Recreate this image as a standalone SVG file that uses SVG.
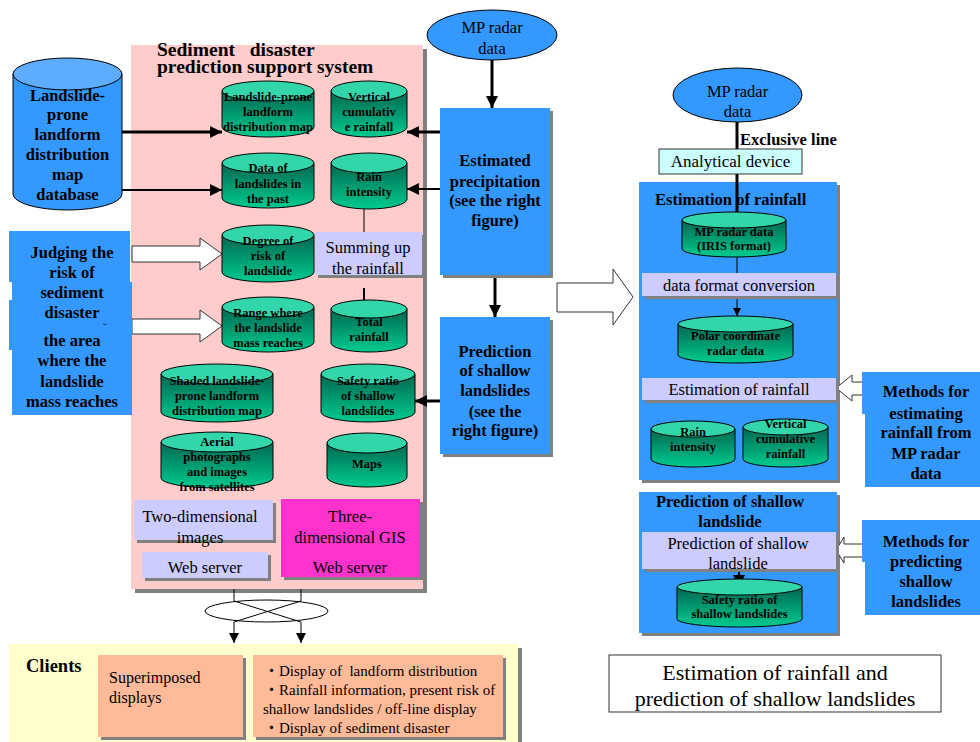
<svg xmlns="http://www.w3.org/2000/svg" width="980" height="742" viewBox="0 0 980 742">
<defs>
<style>
.t{font-family:"Liberation Serif","Times New Roman","Noto Sans CJK JP",serif;fill:#000;white-space:pre}
.b{font-weight:bold}
.c{text-anchor:middle}
.g{font-size:12.5px;font-weight:bold;text-anchor:middle}
.f16{font-size:16.5px}
.sh{fill:#808080}
.cb{fill:url(#gg);stroke:#000;stroke-width:1}
.ct{fill:#33d6aa;stroke:#000;stroke-width:1}
.blue{fill:#3399ff}
.lav{fill:#ccccff}
.ln{stroke:#000;fill:none}
.wa{fill:#fff;stroke:#333;stroke-width:1}
</style>
<linearGradient id="gg" x1="0" y1="0" x2="0" y2="1">
<stop offset="0" stop-color="#006650"/>
<stop offset="1" stop-color="#00cc90"/>
</linearGradient>
<marker id="ah" viewBox="0 0 12 12" refX="12" refY="6" markerWidth="12" markerHeight="12" markerUnits="userSpaceOnUse" orient="auto">
<path d="M0,0 L12,6 L0,12 Z" fill="#000"/>
</marker>
<marker id="ahm" viewBox="0 0 10 10" refX="10" refY="5" markerWidth="10" markerHeight="10" markerUnits="userSpaceOnUse" orient="auto">
<path d="M0,0 L10,5 L0,10 Z" fill="#000"/>
</marker>
<marker id="ahs" viewBox="0 0 8 8" refX="8" refY="4" markerWidth="8" markerHeight="8" markerUnits="userSpaceOnUse" orient="auto">
<path d="M0,0 L8,4 L0,8 Z" fill="#000"/>
</marker>
</defs>
<rect width="980" height="742" fill="#fff"/>

<!-- background panels -->
<g id="sediment-panel">
<rect class="sh" x="135" y="49" width="292" height="544"/>
<rect x="131" y="45" width="292" height="544" fill="#ffcccc"/>
<text class="t b" x="157" y="55.5" font-size="19.5">Sediment   disaster</text>
<text class="t b" x="157" y="73" font-size="19.5">prediction support system</text>
</g>
<g id="clients-panel">
<rect class="sh" x="13" y="648" width="509" height="100"/>
<rect x="9" y="644" width="509" height="100" fill="#ffffcc"/>
<text class="t b" x="26" y="672" font-size="18.5">Clients</text>
</g>
<g id="estimation-panel">
<rect class="sh" x="642" y="185" width="198" height="298"/>
<rect class="blue" x="639" y="182" width="198" height="298"/>
</g>
<g id="prediction-panel">
<rect class="sh" x="642" y="495" width="198" height="141"/>
<rect class="blue" x="639" y="492" width="198" height="141"/>
<text class="t b c f16" x="730" y="507">Prediction of shallow</text>
<text class="t b c f16" x="730" y="527">landslide</text>
</g>

<!-- connectors -->
<g id="connectors">
<line class="ln" x1="122" y1="132" x2="222" y2="132" stroke-width="3" marker-end="url(#ah)"/>
<line class="ln" x1="122" y1="190" x2="222" y2="190" stroke-width="2" marker-end="url(#ah)"/>
<line class="ln" x1="440" y1="132" x2="407" y2="132" stroke-width="3" marker-end="url(#ah)"/>
<line class="ln" x1="440" y1="189" x2="407" y2="189" stroke-width="2" marker-end="url(#ah)"/>
<line class="ln" x1="492" y1="60" x2="492" y2="108" stroke-width="3" marker-end="url(#ah)"/>
<line class="ln" x1="495" y1="275" x2="495" y2="317" stroke-width="3" marker-end="url(#ah)"/>
<line class="ln" x1="440" y1="401" x2="415" y2="401" stroke-width="3" marker-end="url(#ah)"/>
<line class="ln" x1="364" y1="209" x2="364" y2="232" stroke-width="1"/>
<line class="ln" x1="364" y1="288" x2="364" y2="310" stroke-width="2" marker-end="url(#ahm)"/>
<polygon class="wa" points="132,246 200,246 200,238 222,254 200,270 200,262 132,262"/>
<polygon class="wa" points="132,319 200,319 200,310 222,326 200,342 200,334 132,334"/>
<polygon class="wa" points="557,283 613,283 613,269 633,297 613,325 613,312 557,312"/>
<polygon class="wa" points="863,382 852,382 852,375 836,388 852,401 852,395 863,395"/>
<polygon class="wa" points="863,544 844,544 844,537 836,550 844,563 844,557 863,557"/>
<path class="ln" d="M234,589 V601 L301,622 V643" stroke-width="1" marker-end="url(#ahm)"/>
<path class="ln" d="M301,589 V601 L234,622 V643" stroke-width="1" marker-end="url(#ahm)"/>
<line class="ln" x1="737" y1="122" x2="737" y2="215" stroke-width="3"/>
<line class="ln" x1="737" y1="257" x2="737" y2="273" stroke-width="1"/>
<line class="ln" x1="737" y1="296" x2="737" y2="316" stroke-width="1" marker-end="url(#ahs)"/>
<line class="ln" x1="739" y1="569" x2="739" y2="587" stroke-width="2" marker-end="url(#ah)"/>
</g>

<g id="panel-title-estimation">
<text class="t b" x="655" y="205" font-size="16.5">Estimation of rainfall</text>
</g>

<!-- left side nodes -->
<g id="landform-database">
<path d="M13,74 V194 A54.5,16 0 0 0 122,194 V74 Z" fill="#3399ff" stroke="#000"/>
<ellipse cx="67.5" cy="74" rx="54.5" ry="16" fill="#5eacff" stroke="#000"/>
<text class="t b c f16" x="67.5" y="101">Landslide-</text>
<text class="t b c f16" x="67.5" y="120">prone</text>
<text class="t b c f16" x="67.5" y="140">landform</text>
<text class="t b c f16" x="67.5" y="160">distribution</text>
<text class="t b c f16" x="67.5" y="180">map</text>
<text class="t b c f16" x="67.5" y="200">database</text>
</g>
<g id="judging-risk">
<rect class="blue" x="9" y="231" width="121" height="51"/>
<rect class="blue" x="12" y="282" width="120" height="133"/>
<rect class="blue" x="9" y="300" width="121" height="50"/>
<text class="t b c f16" x="72" y="258">Judging the</text>
<text class="t b c f16" x="72" y="278">risk of</text>
<text class="t b c f16" x="72" y="298">sediment</text>
<text class="t b c f16" x="72" y="318">disaster</text>
<text class="t" x="103" y="331" font-size="11">˘</text>
<text class="t b c f16" x="72" y="346">the area</text>
<text class="t b c f16" x="72" y="366">where the</text>
<text class="t b c f16" x="72" y="387">landslide</text>
<text class="t b c f16" x="72" y="407">mass reaches</text>
</g>

<!-- cylinders in sediment panel -->
<g id="landform-map">
<path class="cb" d="M222,91 V127 A46,10 0 0 0 314,127 V91 Z"/>
<ellipse class="ct" cx="268" cy="91" rx="46" ry="10"/>
<text class="t g" x="268" y="101">Landslide-prone</text>
<text class="t g" x="268" y="116">landform</text>
<text class="t g" x="268" y="131">distribution map</text>
</g>
<g id="vertical-cumulative">
<path class="cb" d="M331,91 V127 A38,10 0 0 0 407,127 V91 Z"/>
<ellipse class="ct" cx="369" cy="91" rx="38" ry="10"/>
<text class="t g" x="369" y="101">Vertical</text>
<text class="t g" x="369" y="116">cumulativ</text>
<text class="t g" x="369" y="131">e rainfall</text>
</g>
<g id="past-landslides">
<path class="cb" d="M222,163 V198 A46,10 0 0 0 314,198 V163 Z"/>
<ellipse class="ct" cx="268" cy="163" rx="46" ry="10"/>
<text class="t g" x="268" y="172">Data of</text>
<text class="t g" x="268" y="188">landslides in</text>
<text class="t g" x="268" y="203">the past</text>
</g>
<g id="rain-intensity">
<path class="cb" d="M331,163 V199 A38,10 0 0 0 407,199 V163 Z"/>
<ellipse class="ct" cx="369" cy="163" rx="38" ry="10"/>
<text class="t g" x="369" y="181">Rain</text>
<text class="t g" x="369" y="196">intensity</text>
</g>
<g id="degree-of-risk">
<path class="cb" d="M222,235 V272 A46,10 0 0 0 314,272 V235 Z"/>
<ellipse class="ct" cx="268" cy="235" rx="46" ry="10"/>
<text class="t g" x="268" y="245">Degree of</text>
<text class="t g" x="268" y="260">risk of</text>
<text class="t g" x="268" y="275">landslide</text>
</g>
<g id="range-mass">
<path class="cb" d="M222,307 V342 A46,10 0 0 0 314,342 V307 Z"/>
<ellipse class="ct" cx="268" cy="307" rx="46" ry="10"/>
<text class="t g" x="268" y="317">Range where</text>
<text class="t g" x="268" y="332">the landslide</text>
<text class="t g" x="268" y="347">mass reaches</text>
</g>
<g id="total-rainfall">
<path class="cb" d="M331,309 V343 A38,9 0 0 0 407,343 V309 Z"/>
<ellipse class="ct" cx="369" cy="309" rx="38" ry="9"/>
<text class="t g" x="369" y="326">Total</text>
<text class="t g" x="369" y="341">rainfall</text>
</g>
<g id="shaded-map">
<path class="cb" d="M161,374 V412 A56,10 0 0 0 273,412 V374 Z"/>
<ellipse class="ct" cx="217" cy="374" rx="56" ry="10"/>
<text class="t g" x="217" y="385">Shaded landslide-</text>
<text class="t g" x="217" y="400">prone landform</text>
<text class="t g" x="217" y="415">distribution map</text>
</g>
<g id="safety-ratio-left">
<path class="cb" d="M321,374 V412 A47,10 0 0 0 415,412 V374 Z"/>
<ellipse class="ct" cx="368" cy="374" rx="47" ry="10"/>
<text class="t g" x="368" y="385">Safety ratio</text>
<text class="t g" x="368" y="400">of shallow</text>
<text class="t g" x="368" y="415">landslides</text>
</g>
<g id="aerial-photos">
<path class="cb" d="M161,442 V478 A56,10 0 0 0 273,478 V442 Z"/>
<ellipse class="ct" cx="217" cy="442" rx="56" ry="10"/>
<text class="t g" x="217" y="446">Aerial</text>
<text class="t g" x="217" y="461">photographs</text>
<text class="t g" x="217" y="476">and images</text>
<text class="t g" x="217" y="491">from satellites</text>
</g>
<g id="maps">
<path class="cb" d="M327,443 V477 A40,10 0 0 0 407,477 V443 Z"/>
<ellipse class="ct" cx="367" cy="443" rx="40" ry="10"/>
<text class="t g" x="367" y="468">Maps</text>
</g>

<g id="summing-up">
<rect class="sh" x="318" y="235" width="107" height="43"/>
<rect class="lav" x="315" y="232" width="107" height="43"/>
<text class="t c f16" x="368" y="253">Summing up</text>
<text class="t c f16" x="368" y="274">the rainfall</text>
</g>
<g id="two-dimensional">
<rect class="sh" x="137" y="503" width="139" height="40"/>
<rect class="lav" x="134" y="500" width="139" height="40"/>
<text class="t c f16" x="200" y="522">Two-dimensional</text>
<text class="t c f16" x="200" y="543">images</text>
</g>
<g id="web-server-2d">
<rect class="sh" x="145" y="555" width="126" height="26"/>
<rect class="lav" x="142" y="552" width="126" height="26"/>
<text class="t c f16" x="205" y="573">Web server</text>
</g>
<g id="three-dimensional-gis">
<rect class="sh" x="284" y="502" width="139" height="78"/>
<rect x="281" y="499" width="139" height="78" fill="#ff33cc"/>
<text class="t c f16" x="350" y="522">Three-</text>
<text class="t c f16" x="350" y="543">dimensional GIS</text>
<text class="t c f16" x="350" y="573">Web server</text>
</g>

<g id="network">
<ellipse cx="266.5" cy="611" rx="61.5" ry="11" fill="none" stroke="#000"/>
</g>

<g id="superimposed">
<rect class="sh" x="101" y="658" width="145" height="82"/>
<rect x="98" y="655" width="145" height="82" fill="#ffbb99"/>
<text class="t" x="109" y="683" font-size="16">Superimposed</text>
<text class="t" x="109" y="703" font-size="16">displays</text>
</g>
<g id="display-list">
<rect class="sh" x="256" y="658" width="250" height="82"/>
<rect x="253" y="655" width="250" height="82" fill="#ffbb99"/>
<text class="t" x="264" y="676" font-size="15">・Display of  landform distribution</text>
<text class="t" x="264" y="695" font-size="15">・Rainfall information, present risk of</text>
<text class="t" x="263" y="714" font-size="15">shallow landslides / off-line display</text>
<text class="t" x="264" y="733" font-size="15">・Display of sediment disaster</text>
</g>

<!-- middle column -->
<g id="mp-radar-top">
<ellipse cx="492" cy="35" rx="65" ry="25" fill="#3399ff" stroke="#000"/>
<text class="t c f16" x="492" y="33">MP radar</text>
<text class="t c f16" x="492" y="54">data</text>
</g>
<g id="estimated-precipitation">
<rect class="sh" x="443" y="111" width="110" height="167"/>
<rect class="blue" x="440" y="108" width="110" height="167"/>
<text class="t b c f16" x="495" y="166">Estimated</text>
<text class="t b c f16" x="495" y="187">precipitation</text>
<text class="t b c f16" x="495" y="206">(see the right</text>
<text class="t b c f16" x="495" y="226">figure)</text>
</g>
<g id="prediction-shallow">
<rect class="sh" x="443" y="320" width="110" height="137"/>
<rect class="blue" x="440" y="317" width="110" height="137"/>
<text class="t b c f16" x="495" y="357">Prediction</text>
<text class="t b c f16" x="495" y="376">of shallow</text>
<text class="t b c f16" x="495" y="396">landslides</text>
<text class="t b c f16" x="495" y="417">(see the</text>
<text class="t b c f16" x="495" y="436">right figure)</text>
</g>

<!-- right figure -->
<g id="mp-radar-right">
<ellipse cx="737.5" cy="95" rx="64.5" ry="27" fill="#3399ff" stroke="#000"/>
<text class="t c f16" x="737.5" y="97">MP radar</text>
<text class="t c f16" x="737.5" y="117">data</text>
</g>
<g id="exclusive-line-label">
<text class="t b f16" x="740" y="145">Exclusive line</text>
</g>
<g id="analytical-device">
<rect x="659" y="149" width="143" height="25" fill="#ccffff" stroke="#333"/>
<text class="t c" x="730.5" y="167" font-size="17">Analytical device</text>
</g>
<g id="iris-data">
<path class="cb" d="M682,220 V249 A52,8 0 0 0 786,249 V220 Z"/>
<ellipse class="ct" cx="734" cy="220" rx="52" ry="8"/>
<text class="t g" x="734" y="235.5">MP radar data</text>
<text class="t g" x="734" y="249.5">(IRIS format)</text>
</g>
<g id="format-conversion">
<rect class="sh" x="645" y="276" width="194" height="23"/>
<rect class="lav" x="642" y="273" width="194" height="23"/>
<text class="t c" x="739" y="291" font-size="16.5">data format conversion</text>
</g>
<g id="polar-data">
<path class="cb" d="M678,324 V355 A57.5,8 0 0 0 793,355 V324 Z"/>
<ellipse class="ct" cx="735.5" cy="324" rx="57.5" ry="8"/>
<text class="t g" x="735.5" y="339.5">Polar coordinate</text>
<text class="t g" x="735.5" y="354.5">radar data</text>
</g>
<g id="estimation-box">
<rect class="sh" x="645" y="381" width="194" height="22"/>
<rect class="lav" x="642" y="378" width="194" height="22"/>
<text class="t c" x="739" y="395" font-size="16.5">Estimation of rainfall</text>
</g>
<g id="rain-intensity-right">
<path class="cb" d="M651,429 V459 A42,8 0 0 0 735,459 V429 Z"/>
<ellipse class="ct" cx="693" cy="429" rx="42" ry="8"/>
<text class="t g" x="693" y="435.5">Rain</text>
<text class="t g" x="693" y="450.5">intensity</text>
</g>
<g id="vertical-cumulative-right">
<path class="cb" d="M743,427 V459 A42.5,8 0 0 0 828,459 V427 Z"/>
<ellipse class="ct" cx="785.5" cy="427" rx="42.5" ry="8"/>
<text class="t g" x="785.5" y="427.5">Vertical</text>
<text class="t g" x="785.5" y="442.5">cumulative</text>
<text class="t g" x="785.5" y="457.5">rainfall</text>
</g>
<g id="prediction-box">
<rect class="sh" x="645" y="535" width="194" height="37"/>
<rect class="lav" x="642" y="532" width="194" height="37"/>
<text class="t c" x="738" y="549" font-size="16.5">Prediction of shallow</text>
<text class="t c" x="738" y="569" font-size="16.5">landslide</text>
</g>
<g id="safety-ratio-right">
<path class="cb" d="M677,587 V619 A62.5,8 0 0 0 802,619 V587 Z"/>
<ellipse class="ct" cx="739.5" cy="587" rx="62.5" ry="8"/>
<text class="t g" x="739.5" y="603.5">Safety ratio of</text>
<text class="t g" x="739.5" y="617.5">shallow landslides</text>
</g>
<g id="methods-estimating">
<rect class="blue" x="862" y="372" width="118" height="42"/>
<rect class="blue" x="865" y="413" width="115" height="74"/>
<text class="t b c f16" x="926" y="397">Methods for</text>
<text class="t b c f16" x="926" y="419">estimating</text>
<text class="t b c f16" x="926" y="438">rainfall from</text>
<text class="t b c f16" x="926" y="459">MP radar</text>
<text class="t b c f16" x="926" y="479">data</text>
</g>
<g id="methods-predicting">
<rect class="blue" x="862" y="520" width="118" height="42"/>
<rect class="blue" x="865" y="561" width="115" height="54"/>
<text class="t b c f16" x="926" y="547">Methods for</text>
<text class="t b c f16" x="926" y="567">predicting</text>
<text class="t b c f16" x="926" y="587">shallow</text>
<text class="t b c f16" x="926" y="607">landslides</text>
</g>
<g id="caption">
<rect x="609" y="655" width="332" height="57" fill="#fff" stroke="#333"/>
<text class="t c" x="775" y="680" font-size="22">Estimation of rainfall and</text>
<text class="t c" x="775" y="706" font-size="22">prediction of shallow landslides</text>
</g>
</svg>
